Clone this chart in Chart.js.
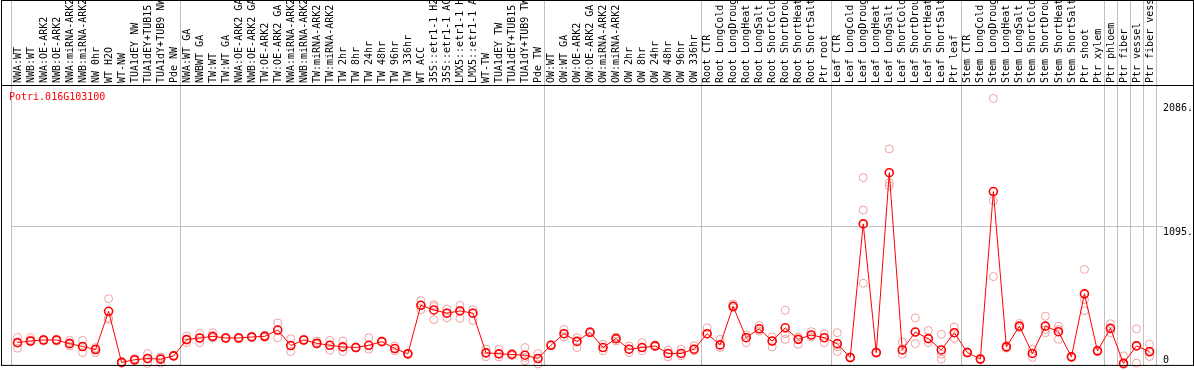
<!DOCTYPE html>
<html><head><meta charset="utf-8">
<script src="https://cdn.jsdelivr.net/npm/chart.js@4.4.1/dist/chart.umd.min.js"></script>
<style>html,body{margin:0;padding:0;background:#fff;overflow:hidden}canvas{display:block}</style>
</head><body>
<canvas id="c" width="1194" height="370"></canvas>
<script>
const geneTitle = 'Potri.016G103100';
const categories = [
 'NWA:WT','NWB:WT','NWA:OE-ARK2','NWB:OE-ARK2','NWA:miRNA-ARK2','NWB:miRNA-ARK2','NW 0hr','WT H2O','WT-NW','TUA1dEY NW','TUA1dEY+TUB15','TUA1dY+TUB9 NW','Pde NW',
 'NWA:WT GA','NWBWT GA','TW:WT','TW:WT GA','NWA:OE-ARK2 GA','NWB:OE-ARK2 GA','TW:OE-ARK2','TW:OE-ARK2 GA','NWA:miRNA-ARK2','NWB:miRNA-ARK2','TW:miRNA-ARK2','TW:miRNA-ARK2',
 'TW 2hr','TW 8hr','TW 24hr','TW 48hr','TW 96hr','TW 336hr','WT ACC','35S::etr1-1 H2','35S::etr1-1 AC','LMX5::etr1-1 H','LMX5::etr1-1 A','WT-TW','TUA1dEY TW','TUA1dEY+TUB15','TUA1dY+TUB9 TW','Pde TW',
 'OW:WT','OW:WT GA','OW:OE-ARK2','OW:OE-ARK2 GA','OW:miRNA-ARK2','OW:miRNA-ARK2','OW 2hr','OW 8hr','OW 24hr','OW 48hr','OW 96hr','OW 336hr',
 'Root CTR','Root LongCold','Root LongDroug','Root LongHeat','Root LongSalt','Root ShortCold','Root ShortDrou','Root ShortHeat','Root ShortSalt','Ptr root',
 'Leaf CTR','Leaf LongCold','Leaf LongDroug','Leaf LongHeat','Leaf LongSalt','Leaf ShortCold','Leaf ShortDrou','Leaf ShortHeat','Leaf ShortSalt','Ptr leaf',
 'Stem CTR','Stem LongCold','Stem LongDroug','Stem LongHeat','Stem LongSalt','Stem ShortCold','Stem ShortDrou','Stem ShortHeat','Stem ShortSalt','Ptr shoot',
 'Ptr xylem','Ptr phloem','Ptr fiber','Ptr vessel','Ptr fiber vess'
];
const meanValues = [
 173,186,194,194,165,142,118,422,16,37,47,42,68,
 197,210,223,210,210,218,223,273,150,194,168,152,
 139,134,152,181,126,84,470,433,407,425,407,92,84,79,73,47,
 152,244,183,255,134,205,121,134,147,87,87,121,
 244,155,462,212,283,186,291,199,234,212,
 165,55,1117,94,1524,115,257,205,115,252,
 94,42,1374,139,304,87,304,260,60,561,
 108,286,8,147,102
];
const rep1 = [
 215,213,197,197,191,191,135,522,22,45,87,58,72,
 226,246,252,215,218,225,232,330,204,200,186,191,
 186,140,212,186,147,90,506,475,440,470,435,121,121,88,134,87,
 158,278,212,262,160,218,147,173,155,113,121,147,
 291,199,480,234,309,218,430,218,260,244,
 252,60,1485,100,1713,178,370,270,239,297,
 100,48,2114,150,325,121,383,304,65,755,
 115,323,68,283,160
];
const rep2 = [
 173,181,186,186,146,94,95,370,10,30,8,10,65,
 173,173,212,205,205,212,215,212,102,190,160,113,
 102,130,121,178,108,80,435,357,370,365,349,60,60,70,29,3,
 148,218,134,250,108,186,94,108,140,60,68,108,
 239,134,450,173,265,139,199,160,218,173,
 102,50,1227,88,1445,81,165,173,81,207,
 90,38,1301,130,290,55,252,199,55,514,
 100,252,0,10,94
];
const rep3 = [
 129,194,200,200,173,142,125,357,16,40,47,55,68,
 197,210,210,210,210,218,223,273,150,194,165,152,
 139,134,150,181,126,84,470,460,410,430,410,92,84,79,55,47,
 152,244,183,255,134,205,121,134,147,87,87,121,
 244,155,462,212,283,186,245,199,234,212,
 141,55,645,94,1419,115,257,205,42,252,
 94,42,698,139,304,87,277,277,60,427,
 108,286,5,150,63
];
const groupStarts = [0, 13, 41, 53, 63, 73, 84, 85, 86, 87, 88];
const yTicks = [0, 1095, 2086];
const yTickLabels = ['0', '1095.', '2086.'];

const MONO = "'DejaVu Sans Mono', 'Liberation Mono', monospace";

const framePlugin = {
  id: 'frame',
  beforeDatasetsDraw(chart) {
    const ctx = chart.ctx, xs = chart.scales.x, ca = chart.chartArea;
    const band = xs.getPixelForValue(1) - xs.getPixelForValue(0);
    ctx.save();
    ctx.strokeStyle = '#c0c0c0';
    ctx.lineWidth = 1;
    groupStarts.forEach(i => {
      const px = Math.round(xs.getPixelForValue(0) + (i - 0.5) * band) + 0.5;
      ctx.beginPath(); ctx.moveTo(px, 0); ctx.lineTo(px, ca.bottom + 1); ctx.stroke();
    });
    ctx.restore();
  },
  afterDraw(chart) {
    const ctx = chart.ctx, ys = chart.scales.y, ca = chart.chartArea;
    ctx.save();
    ctx.strokeStyle = '#000';
    ctx.lineWidth = 1;
    ctx.strokeRect(1.5, 0.5, chart.width - 2, ca.bottom + 0.5);
    ctx.beginPath(); ctx.moveTo(1, ca.top + 0.5); ctx.lineTo(chart.width - 1, ca.top + 0.5); ctx.stroke();
    ctx.font = '10px ' + MONO;
    ctx.fillStyle = '#000';
    ctx.textAlign = 'left';
    yTicks.forEach((v, i) => {
      const p = ys.getPixelForValue(v);
      if (p + 11 > ca.bottom) { ctx.textBaseline = 'alphabetic'; ctx.fillText(yTickLabels[i], ca.right + 7, p - 1); }
      else { ctx.textBaseline = 'top'; ctx.fillText(yTickLabels[i], ca.right + 7, p + 1); }
    });
    ctx.fillStyle = '#ff0000';
    ctx.textBaseline = 'middle';
    ctx.fillText(geneTitle, 9, ca.top + 12);
    ctx.restore();
  }
};

const repStyle = (data) => ({
  data, showLine: false, clip: false, order: 1,
  pointRadius: 4, pointHoverRadius: 4, pointBorderWidth: 1,
  pointBorderColor: '#f0a0a0', pointBackgroundColor: 'rgba(0,0,0,0)',
  borderColor: '#f0a0a0', backgroundColor: 'rgba(0,0,0,0)'
});

new Chart(document.getElementById('c'), {
  type: 'line',
  data: {
    labels: categories,
    datasets: [
      { data: meanValues, order: 0, clip: false, tension: 0,
        borderColor: '#ff0000', borderWidth: 1, backgroundColor: 'rgba(0,0,0,0)',
        pointRadius: 4, pointHoverRadius: 4, pointBorderWidth: 1.6,
        pointBorderColor: '#ff0000', pointBackgroundColor: 'rgba(0,0,0,0)' },
      repStyle(rep1), repStyle(rep2), repStyle(rep3)
    ]
  },
  plugins: [framePlugin],
  options: {
    responsive: false, devicePixelRatio: 1, animation: false,
    layout: { padding: { left: 11, right: 0, top: 0, bottom: 3 } },
    plugins: { legend: { display: false }, tooltip: { enabled: false }, title: { display: false } },
    scales: {
      x: {
        type: 'category', position: 'top', offset: true,
        grid: { display: false, drawTicks: false },
        border: { display: false },
        ticks: { autoSkip: false, minRotation: 90, maxRotation: 90, padding: 2, labelOffset: 12.5, color: '#000',
                 font: { family: MONO, size: 10 } },
        afterFit(s) { s.height = 85; }
      },
      y: {
        position: 'right', min: 0, max: 2221,
        afterBuildTicks(s) { s.ticks = yTicks.map(v => ({ value: v })); },
        grid: { color: c => (c.tick && c.tick.value === 1095) ? '#c0c0c0' : 'rgba(0,0,0,0)',
                drawTicks: true, tickLength: 7, lineWidth: 1 },
        border: { display: false },
        ticks: { display: false },
        afterFit(s) { s.width = 38; }
      }
    }
  }
});
</script>
</body></html>
